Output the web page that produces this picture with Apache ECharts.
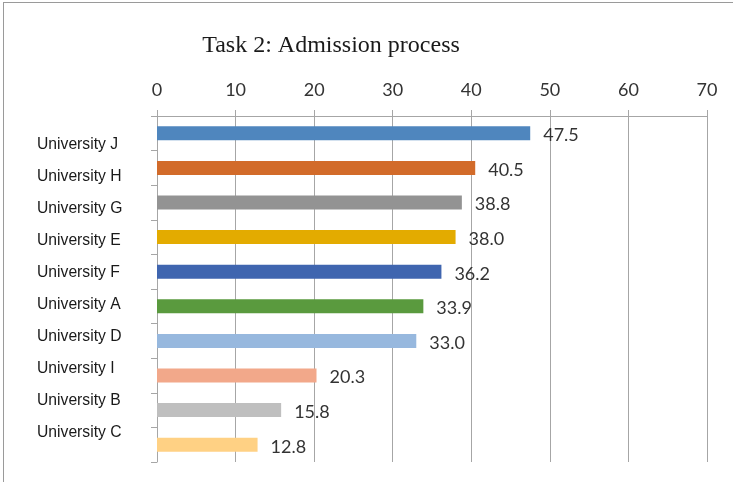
<!DOCTYPE html>
<html>
<head>
<meta charset="utf-8">
<title>Task 2: Admission process</title>
<script src="https://cdn.jsdelivr.net/npm/echarts@6/dist/echarts.min.js"></script>
<style>
  html, body { margin: 0; padding: 0; background: #ffffff; }
  #chart { width: 733px; height: 482px; }
</style>
</head>
<body>
<div id="chart"></div>
<script>
// Universities, ordered top to bottom
const universities = ['University J', 'University H', 'University G', 'University E', 'University F',
                      'University A', 'University D', 'University I', 'University B', 'University C'];
// Score for each university
const scores = [47.5, 40.5, 38.8, 38.0, 36.2, 33.9, 33.0, 20.3, 15.8, 12.8];
// Bar colour for each university
const barColors = ['#4F86BE', '#D26B2A', '#939393', '#E3AB00', '#3F65AF',
                   '#5A9A3E', '#97B8DE', '#F2A88A', '#BFBFBF', '#FFD184'];
// Value axis range and step
const axisMin = 0, axisMax = 70, axisStep = 10;

const gridColor = '#a6a6a6';
const chart = echarts.init(document.getElementById('chart'), null, { renderer: 'canvas' });

chart.setOption({
  animation: false,
  backgroundColor: '#ffffff',
  title: {
    text: 'Task 2: Admission process',
    left: 326, top: 29, textAlign: 'center',
    textStyle: { fontFamily: 'Liberation Serif', fontSize: 24, fontWeight: 'normal', color: '#1a1a1a' }
  },
  grid: [
    { left: 157, right: 26, top: 116, bottom: 20 },
    // name column: labels sit on their own evenly spaced rows
    { left: 157, width: 1, top: 129, height: 320 }
  ],
  xAxis: [
    {
      type: 'value', gridIndex: 0, position: 'top',
      min: axisMin, max: axisMax, interval: axisStep,
      axisLine: { show: true, lineStyle: { color: gridColor, width: 1 } },
      axisTick: { show: true, length: 6, lineStyle: { color: gridColor } },
      axisLabel: { margin: 17, fontFamily: 'Lato', fontSize: 18, color: '#333333' },
      splitLine: { show: true, lineStyle: { color: gridColor, width: 1 } }
    },
    {
      type: 'value', gridIndex: 1, show: false
    }
  ],
  yAxis: [
    {
      type: 'category', gridIndex: 0, inverse: true, data: universities,
      axisLine: { show: true, lineStyle: { color: gridColor, width: 1 } },
      axisTick: { show: true, length: 6, lineStyle: { color: gridColor } },
      axisLabel: { show: false },
      splitLine: { show: false }
    },
    {
      type: 'category', gridIndex: 1, inverse: true, data: universities,
      axisLine: { show: false }, axisTick: { show: false }, splitLine: { show: false },
      axisLabel: { margin: 120, align: 'left', fontFamily: 'Liberation Sans', fontSize: 15.7, color: '#1a1a1a' }
    }
  ],
  series: [{
    type: 'bar',
    xAxisIndex: 0, yAxisIndex: 0,
    barWidth: 14,
    data: scores.map((v, i) => ({ value: v, itemStyle: { color: barColors[i] } })),
    label: {
      show: true, position: 'right', distance: 13, offset: [0, 2],
      fontFamily: 'Lato', fontSize: 18, color: '#333333',
      formatter: p => Number(p.value).toFixed(1)
    }
  }],
  graphic: [
    { type: 'line', shape: { x1: 3, y1: 2.5, x2: 733, y2: 2.5 }, style: { stroke: '#9a9a9a', lineWidth: 1 } },
    { type: 'line', shape: { x1: 3.5, y1: 2, x2: 3.5, y2: 482 }, style: { stroke: '#9a9a9a', lineWidth: 1 } }
  ]
});
</script>
</body>
</html>
